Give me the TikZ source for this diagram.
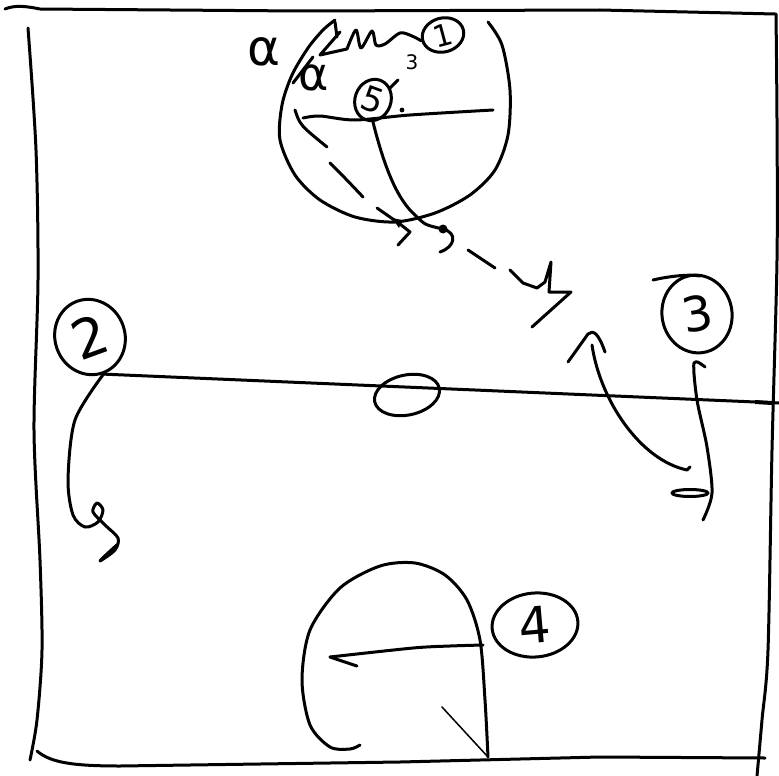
\documentclass[tikz,border=0pt]{standalone}
\usepackage{fontspec}
\newfontfamily\hand{DejaVu Sans}
\usetikzlibrary{shapes.geometric}
\begin{document}
\begin{tikzpicture}[x=1pt,y=-1pt,line cap=round,line join=round,
  ink/.style={line width=3pt},
  fine/.style={line width=1.5pt},
  bub/.style={ellipse,draw,line width=3pt,inner sep=0pt},
  lab/.style={inner sep=0pt}]
\useasboundingbox (0,0) rectangle (779,776);
% frame
\draw[ink] (5,9) .. controls (15,5) and (25,6) .. (40,9) -- (300,11) -- (600,10) -- (775,14);
\draw[ink] plot[smooth] coordinates {(776,14) (777,120) (777,260) (772,450) (768,650) (762,720) (757,776)};
\draw[ink] plot[smooth] coordinates {(28,28) (36,150) (38,280) (34,430) (40,560) (42,650) (37,720) (30,760)};
\draw[ink] (37,751) .. controls (50,762) and (70,766) .. (120,766) -- (400,762) -- (600,757) -- (765,758);
% bubbles
\node[bub,minimum width=42,minimum height=34,rotate=15,font=\hand\fontsize{30}{30}\selectfont] (n1) at (443,35) {1};
\node[bub,minimum width=36,minimum height=42,rotate=-20,font=\hand\fontsize{34}{34}\selectfont] (n5) at (373,100) {5};
\node[bub,minimum width=70,minimum height=76,rotate=20,font=\hand\fontsize{54}{54}\selectfont] (n2) at (90,337) {2};
\node[bub,minimum width=70,minimum height=78,rotate=10,font=\hand\fontsize{48}{48}\selectfont] (n3) at (697,314) {3};
\node[bub,minimum width=86,minimum height=64,rotate=5,font=\hand\fontsize{50}{50}\selectfont] (n4) at (535,625) {4};
\node[bub,minimum width=66,minimum height=40,rotate=12] (n0) at (407,395) {};
% labels
\node[lab,font=\hand\fontsize{50}{50}\selectfont] (a1) at (264,52) {α};
\node[lab,font=\hand\fontsize{46}{46}\selectfont] (a2) at (314,78) {α};
\node[lab,font=\hand\fontsize{20}{20}\selectfont] (s3) at (412,62) {3};
% top big circle
\draw[ink] plot[smooth] coordinates {(488,22) (502,45) (510,90) (508,135) (495,170) (470,195) (435,213) (395,222) (355,217) (320,200) (295,175) (280,140) (282,105) (292,75) (308,48) (323,30) (335,20)};
% scribble towards bubble 1
\draw[ink] (335,22) -- (337,37);
\draw[ink] (293,83) -- (313,57);
\draw[ink] (320,55) -- (340,32) (320,55) -- (347,49);
\draw[ink] plot[smooth] coordinates {(347,49) (356,30) (361,48) (372,31) (376,45) (385,44) (400,33) (412,36) (n1.west)};
% inner horizontal line
\draw[ink] plot[smooth] coordinates {(303,118) (320,116) (355,120) (410,115) (493,110)};
\fill (402,110) circle (2.4);
\draw[ink] (398,80) -- (390,88);
% dashed path
\draw[ink] (295,110) .. controls (300,125) .. (327,147);
\draw[ink] (330,163) .. controls (345,178) .. (363,197);
\draw[ink] (377,208) -- (400,224) -- (410,232) -- (398,245);
\fill (392,218) -- (402,220) -- (399,228) -- cycle;
\draw[ink] (468,250) -- (495,268);
\draw[ink] (510,270) -- (523,283) -- (537,288) -- (545,282) -- (551,262) -- (549,292) -- (571,292) -- (532,327);
% curve from bubble 5
\draw[ink] (n5.-70) .. controls (385,170) and (398,200) .. (415,215) .. controls (425,225) .. (443,229);
\fill (443,229) circle (4.5);
\draw[ink] (443,229) .. controls (458,233) and (455,247) .. (440,252);
% main horizontal line
\coordinate (rE) at (779,403);
\draw[ink] (n2.south) -- (rE);
\fill (755,400) -- (772,401) -- (772,405) -- (755,404) -- cycle;
% left hook line
\draw[ink] plot[smooth] coordinates {(n2.south) (75,420) (68,480) (73,515) (85,527) (98,522) (103,510) (97,503) (93,512) (105,525) (118,538) (115,550) (100,561) (108,553) (118,544)};
% right arrow curve
\draw[ink] (568,362) -- (588,334) .. controls (593,330) and (598,332) .. (605,352);
\draw[ink] (592,345) .. controls (600,400) and (640,460) .. (687,470) -- (690,467);
% bubble 3 tail
\draw[ink] (653,280) .. controls (670,276) and (690,274) .. (700,276);
\draw[ink] plot[smooth] coordinates {(705,367) (694,363) (697,400) (707,447) (712,493) (703,520)};
\draw[ink] (690,493) ellipse [x radius=18,y radius=3.5];
% bottom arch
\draw[ink] plot[smooth] coordinates {(360,745) (350,749) (330,747) (310,725) (302,680) (310,630) (340,588) (380,566) (415,563) (445,575) (467,600) (480,640) (485,700) (488,757)};
\draw[ink] plot[smooth] coordinates {(483,645) (450,646) (413,648) (330,657)};
\draw[ink] (330,657) -- (357,666);
\draw[fine] (442,707) -- (488,757);
\end{tikzpicture}
\end{document}
